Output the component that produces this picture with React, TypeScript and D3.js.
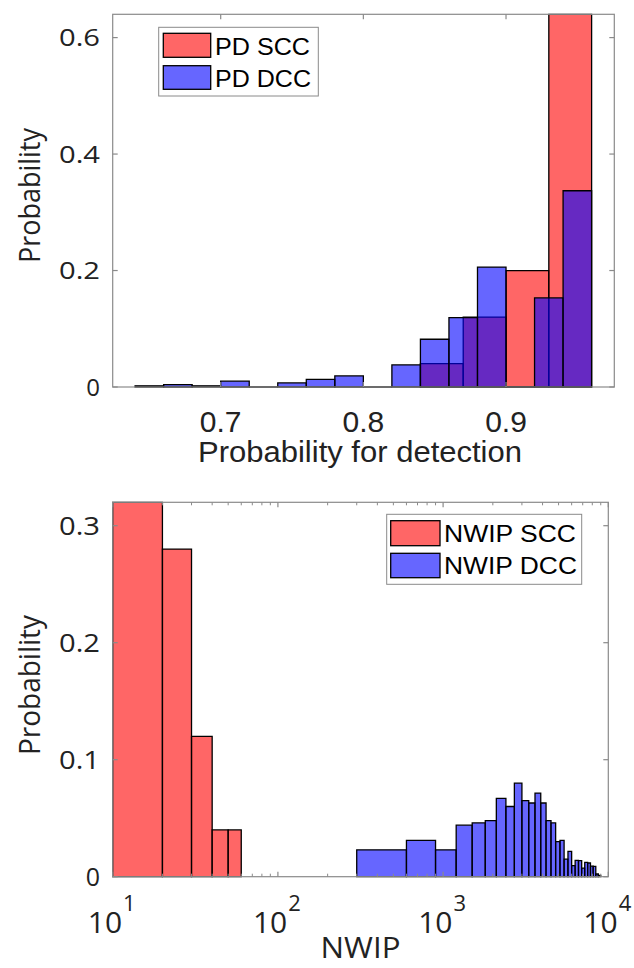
import React from "react";
import * as d3 from "d3";

// ---------- Data ----------
const pdSccEdges = [0.84, 0.87, 0.9, 0.93, 0.96];
const pdSccValues = [0.04, 0.12, 0.2, 0.64];
const pdDccEdges = [0.64, 0.66, 0.68, 0.7, 0.72, 0.74, 0.76, 0.78, 0.8, 0.82, 0.84, 0.86, 0.88, 0.9, 0.92, 0.94, 0.96];
const pdDccValues = [0.002, 0.004, 0.002, 0.01, 0, 0.007, 0.013, 0.019, 0, 0.038, 0.082, 0.119, 0.206, 0, 0.153, 0.337];
const pdXTicks = [0.7, 0.8, 0.9];
const pdYTicks = [0, 0.2, 0.4, 0.6];

const nwipSccEdges = [10, 20, 30, 40, 50, 60];
const nwipSccValues = [0.32, 0.28, 0.12, 0.04, 0.04];
const nwipDccEdges = [300, 600, 900, 1200, 1500, 1800, 2100, 2400, 2700, 3000, 3300, 3600, 3900, 4200, 4500, 4800, 5100, 5400, 5700, 6000, 6300, 6600, 6900, 7200, 7500, 7800, 8100, 8400, 8700, 9000];
const nwipDccValues = [0.023, 0.031, 0.023, 0.044, 0.046, 0.048, 0.067, 0.06, 0.08, 0.065, 0.063, 0.0715, 0.063, 0.048, 0.046, 0.03, 0.031, 0.015, 0.0217, 0.0094, 0.014, 0.0137, 0.0074, 0.0122, 0.0117, 0.0091, 0.0088, 0.0023, 0.0012];
const nwipXTicks = [10, 100, 1000, 10000];
const nwipXExp = ["1", "2", "3", "4"];
const nwipMinorTicks = [20, 30, 40, 50, 60, 70, 80, 90, 200, 300, 400, 500, 600, 700, 800, 900, 2000, 3000, 4000, 5000, 6000, 7000, 8000, 9000];
const nwipYTicks = [0, 0.1, 0.2, 0.3];

const RED = "rgb(255,0,0)";
const BLUE = "rgb(0,0,255)";
const AXIS = "#8a8a8a";
const SANS = "'Liberation Sans', Arial, sans-serif";
const OPEN = "'Open Sans', 'Noto Sans', sans-serif";

function barPath(x0: number, x1: number, y0: number, y1: number) {
  return `M${x0},${y0}V${y1}H${x1}V${y0}Z`;
}

function Bars({ edges, values, x, y, color }: any) {
  return (
    <g>
      {values.map((v: number, i: number) => (
        <path
          key={i}
          d={barPath(x(edges[i]), x(edges[i + 1]), y(0), y(v))}
          fill={color}
          fillOpacity={0.6}
          stroke="#000"
          strokeWidth={1.3}
        />
      ))}
    </g>
  );
}

export default function App() {
  // Top chart
  const L1 = 112.7, R1 = 614.3, T1 = 14.3, B1 = 387;
  const x1 = d3.scaleLinear().domain([0.6243, 0.9759]).range([L1, R1]);
  const y1 = d3.scaleLinear().domain([0, 0.64]).range([B1, T1]);

  // Bottom chart
  const L2 = 112.7, R2 = 608.3, T2 = 502.3, B2 = 876.7;
  const x2 = d3.scaleLog().domain([10, 10000]).range([L2, R2]);
  const y2 = d3.scaleLinear().domain([0, 0.32]).range([B2, T2]);

  const tl = 5;
  const mtl = 3;

  return (
    <svg width={634} height={968} style={{ position: "absolute", left: 0, top: 0, background: "#fff" }}>
      <rect x={0} y={0} width={634} height={968} fill="#fff" />
      {/* ===== Top chart ===== */}
      <Bars edges={pdSccEdges} values={pdSccValues} x={x1} y={y1} color={RED} />
      <Bars edges={pdDccEdges} values={pdDccValues} x={x1} y={y1} color={BLUE} />
      <rect x={L1} y={T1} width={R1 - L1} height={B1 - T1} fill="none" stroke={AXIS} strokeWidth={1.2} />
      {pdXTicks.map((t) => (
        <g key={t}>
          <line x1={x1(t)} x2={x1(t)} y1={B1} y2={B1 - tl} stroke={AXIS} strokeWidth={1.2} />
          <line x1={x1(t)} x2={x1(t)} y1={T1} y2={T1 + tl} stroke={AXIS} strokeWidth={1.2} />
          <text x={x1(t)} y={432} textAnchor="middle" fontFamily={SANS} fontSize={30} fill="#222">
            {t.toFixed(1)}
          </text>
        </g>
      ))}
      {pdYTicks.map((t) => (
        <g key={t}>
          <line x1={L1} x2={L1 + tl} y1={y1(t)} y2={y1(t)} stroke={AXIS} strokeWidth={1.2} />
          <line x1={R1} x2={R1 - tl} y1={y1(t)} y2={y1(t)} stroke={AXIS} strokeWidth={1.2} />
          <text
            x={100}
            y={y1(t) + 8.5}
            textAnchor="end"
            fontFamily={OPEN}
            fontSize={24}
            fill="#222"
            textLength={t === 0 ? undefined : 41}
            lengthAdjust="spacingAndGlyphs"
          >
            {t === 0 ? "0" : t.toFixed(1)}
          </text>
        </g>
      ))}
      <text x={360} y={462} textAnchor="middle" fontFamily={SANS} fontSize={30} fill="#222" textLength={324} lengthAdjust="spacingAndGlyphs">
        Probability for detection
      </text>
      <g transform="translate(39.5,195.5) scale(1.15,1) rotate(-90)">
        <text x={0} y={0} textAnchor="middle" fontFamily={OPEN} fontSize={26} fill="#222" textLength={135} lengthAdjust="spacingAndGlyphs">
          Probability
        </text>
      </g>
      {/* Top legend */}
      <rect x={158.7} y={27.3} width={159.6} height={68.7} fill="#fff" stroke={AXIS} strokeWidth={1} />
      <rect x={163.3} y={33.3} width={47.4} height={24} fill={RED} fillOpacity={0.6} stroke="#000" strokeWidth={1.3} />
      <rect x={163.3} y={65.7} width={47.4} height={23.6} fill={BLUE} fillOpacity={0.6} stroke="#000" strokeWidth={1.3} />
      <text x={215} y={55} fontFamily={SANS} fontSize={23.5} fill="#000" textLength={95} lengthAdjust="spacingAndGlyphs">PD SCC</text>
      <text x={215} y={87.3} fontFamily={SANS} fontSize={23.5} fill="#000" textLength={96} lengthAdjust="spacingAndGlyphs">PD DCC</text>

      {/* ===== Bottom chart ===== */}
      <Bars edges={nwipSccEdges} values={nwipSccValues} x={x2} y={y2} color={RED} />
      <Bars edges={nwipDccEdges} values={nwipDccValues} x={x2} y={y2} color={BLUE} />
      <rect x={L2} y={T2} width={R2 - L2} height={B2 - T2} fill="none" stroke={AXIS} strokeWidth={1.2} />
      {nwipMinorTicks.map((t) => (
        <g key={t}>
          <line x1={x2(t)} x2={x2(t)} y1={B2} y2={B2 - mtl} stroke={AXIS} strokeWidth={1} />
          <line x1={x2(t)} x2={x2(t)} y1={T2} y2={T2 + mtl} stroke={AXIS} strokeWidth={1} />
        </g>
      ))}
      {nwipXTicks.map((t, i) => (
        <g key={t}>
          <line x1={x2(t)} x2={x2(t)} y1={B2} y2={B2 - tl} stroke={AXIS} strokeWidth={1.2} />
          <line x1={x2(t)} x2={x2(t)} y1={T2} y2={T2 + tl} stroke={AXIS} strokeWidth={1.2} />
          <text x={x2(t) - 1} y={933.3} textAnchor="middle" fontFamily={OPEN} fill="#222">
            <tspan fontSize={30}>10</tspan>
            <tspan dy={-22} dx={1} fontSize={22}>{nwipXExp[i]}</tspan>
          </text>
        </g>
      ))}
      {nwipYTicks.map((t) => (
        <g key={t}>
          <line x1={L2} x2={L2 + tl} y1={y2(t)} y2={y2(t)} stroke={AXIS} strokeWidth={1.2} />
          <line x1={R2} x2={R2 - tl} y1={y2(t)} y2={y2(t)} stroke={AXIS} strokeWidth={1.2} />
          <text
            x={100}
            y={y2(t) + 9}
            textAnchor="end"
            fontFamily={OPEN}
            fontSize={25}
            fill="#222"
            textLength={t === 0 ? undefined : 41}
            lengthAdjust="spacingAndGlyphs"
          >
            {t === 0 ? "0" : t.toFixed(1)}
          </text>
        </g>
      ))}
      <text x={360.5} y={958} textAnchor="middle" fontFamily={OPEN} fontSize={29} fill="#222" textLength={80} lengthAdjust="spacingAndGlyphs">NWIP</text>
      <g transform="translate(39.5,685) scale(1.15,1) rotate(-90)">
        <text x={0} y={0} textAnchor="middle" fontFamily={OPEN} fontSize={26} fill="#222" textLength={140} lengthAdjust="spacingAndGlyphs">
          Probability
        </text>
      </g>
      {/* Bottom legend */}
      <rect x={386.7} y={514.3} width={195} height={70} fill="#fff" stroke={AXIS} strokeWidth={1} />
      <rect x={390.7} y={520.7} width={49.3} height={25} fill={RED} fillOpacity={0.6} stroke="#000" strokeWidth={1.3} />
      <rect x={390.7} y={553.3} width={49.3} height={24.4} fill={BLUE} fillOpacity={0.6} stroke="#000" strokeWidth={1.3} />
      <text x={444} y={541.7} fontFamily={SANS} fontSize={23.5} fill="#000" textLength={132} lengthAdjust="spacingAndGlyphs">NWIP SCC</text>
      <text x={444} y={574.3} fontFamily={SANS} fontSize={23.5} fill="#000" textLength={133} lengthAdjust="spacingAndGlyphs">NWIP DCC</text>
    </svg>
  );
}
